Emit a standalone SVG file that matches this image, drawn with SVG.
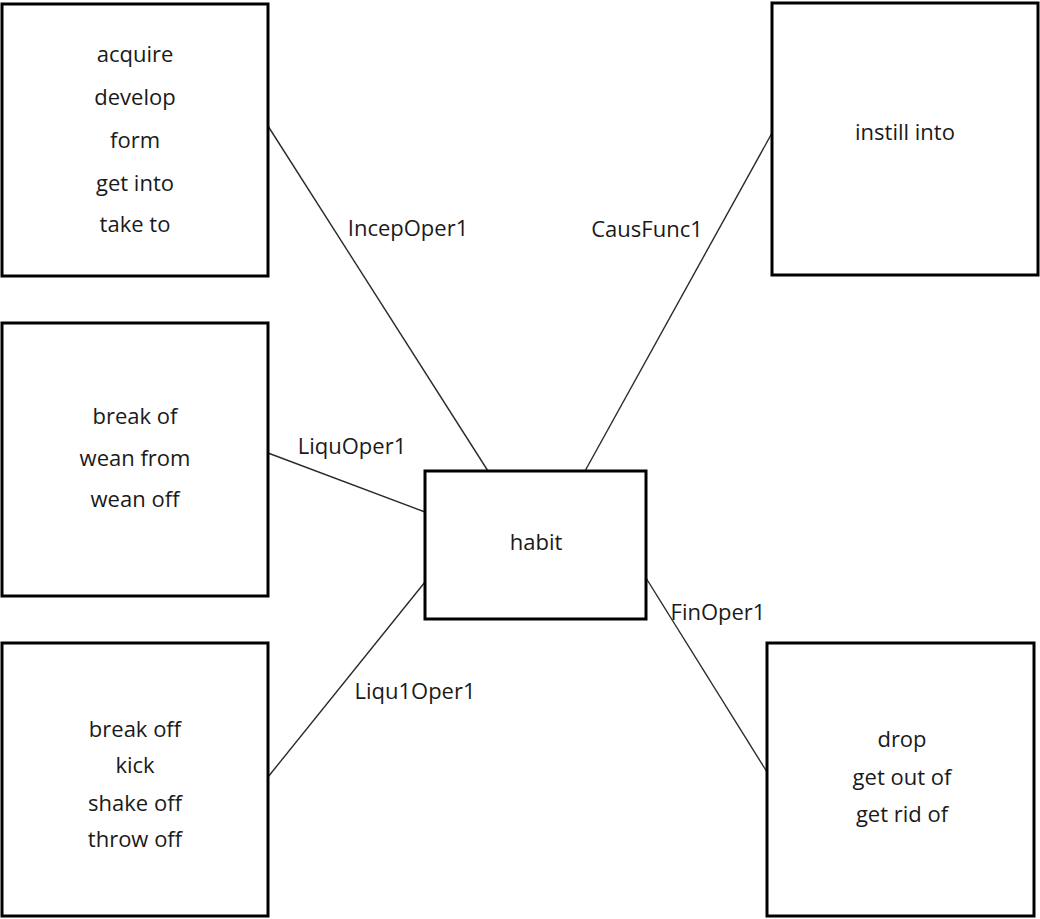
<svg xmlns="http://www.w3.org/2000/svg" width="1040" height="919" viewBox="0 0 1040 919">
<style>
.box{fill:#fff;stroke:#000;stroke-width:3}
.t{font-family:"Open Sans","Liberation Sans",sans-serif;font-size:22px;fill:#1a1a1a;text-anchor:middle}
.c{stroke:#2a2a2a;stroke-width:1.4;fill:none}
</style>
<rect width="1040" height="919" fill="#fff"/>
<g id="connectors">
<line class="c" x1="268" y1="126" x2="488" y2="471"/>
<line class="c" x1="772" y1="133" x2="585" y2="471"/>
<line class="c" x1="268" y1="453" x2="425" y2="512"/>
<line class="c" x1="268" y1="777" x2="425" y2="582"/>
<line class="c" x1="646" y1="578" x2="767" y2="772"/>
<text class="t" x="408" y="236">IncepOper1</text>
<text class="t" x="647" y="237">CausFunc1</text>
<text class="t" x="352" y="454">LiquOper1</text>
<text class="t" x="415" y="699">Liqu1Oper1</text>
<text class="t" x="718" y="620">FinOper1</text>
</g>
<g id="node-acquire">
<rect class="box" x="2" y="4" width="266" height="272"/>
<text class="t" x="135" y="62">acquire</text>
<text class="t" x="135" y="105">develop</text>
<text class="t" x="135" y="148">form</text>
<text class="t" x="135" y="191">get into</text>
<text class="t" x="135" y="232">take to</text>
</g>
<g id="node-break">
<rect class="box" x="2" y="323" width="266" height="273"/>
<text class="t" x="135" y="424">break of</text>
<text class="t" x="135" y="466">wean from</text>
<text class="t" x="135" y="507">wean off</text>
</g>
<g id="node-kick">
<rect class="box" x="2" y="643" width="266" height="273"/>
<text class="t" x="135" y="737">break off</text>
<text class="t" x="135" y="773">kick</text>
<text class="t" x="135" y="811">shake off</text>
<text class="t" x="135" y="847">throw off</text>
</g>
<g id="node-instill">
<rect class="box" x="772" y="3" width="266" height="272"/>
<text class="t" x="905" y="140">instill into</text>
</g>
<g id="node-drop">
<rect class="box" x="767" y="643" width="267" height="273"/>
<text class="t" x="902" y="747">drop</text>
<text class="t" x="902" y="785">get out of</text>
<text class="t" x="902" y="822">get rid of</text>
</g>
<g id="node-habit">
<rect class="box" x="425" y="471" width="221" height="148"/>
<text class="t" x="536" y="550">habit</text>
</g>
</svg>
